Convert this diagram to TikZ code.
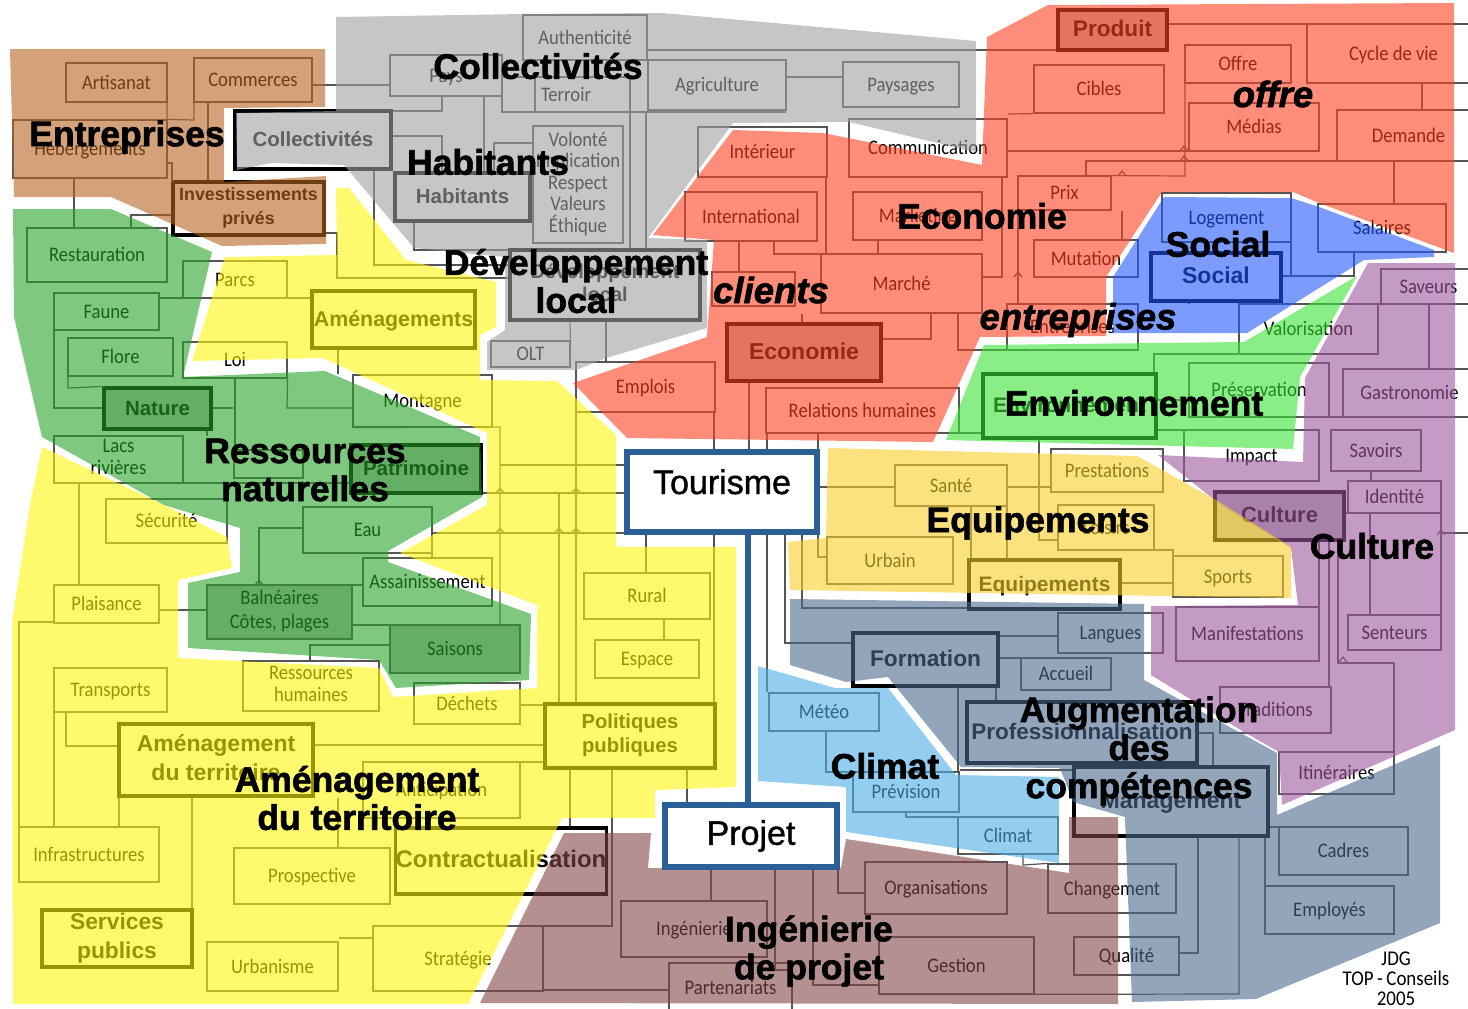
\documentclass[tikz,border=0pt]{standalone}
\usepackage{fontspec}
\setmainfont{Carlito}
\newfontfamily\scan[FakeStretch=0.9]{Carlito}
\newfontfamily\titre{Liberation Sans}[UprightFont=* Bold]
\newfontfamily\gros{Liberation Sans}[UprightFont=* Bold,UprightFeatures={FakeBold=1.7},ItalicFont=* Bold Italic,ItalicFeatures={FakeBold=1.7}]
\newfontfamily\cadre{Liberation Sans}[FakeBold=1.2]
\pgfdeclarelayer{regions}\pgfdeclarelayer{top}
\pgfsetlayers{main,regions,top}
\definecolor{cOrange}{RGB}{183,100,33}
\definecolor{cGris}{RGB}{160,160,160}
\definecolor{cRouge}{RGB}{255,65,33}
\definecolor{cBleu}{RGB}{35,88,255}
\definecolor{cVert}{RGB}{57,227,52}
\definecolor{cViolet}{RGB}{157,88,157}
\definecolor{cJaune}{RGB}{255,245,13}
\definecolor{cOr}{RGB}{250,207,40}
\definecolor{cSapin}{RGB}{42,163,42}
\definecolor{cArdoise}{RGB}{75,105,142}
\definecolor{cCiel}{RGB}{75,172,230}
\definecolor{cRose}{RGB}{132,70,70}
\definecolor{cCadre}{RGB}{42,96,150}
\definecolor{cTrait}{RGB}{85,85,85}
\tikzset{
  x=1pt,y=-1pt,
  boite/.style={draw=cTrait,line width=1.2pt,inner sep=0pt,align=center,text=black,
    font=\scan\fontsize{20.7}{24}\selectfont,execute at begin node={\rule[-5pt]{0pt}{23.4pt}}},
  plein/.style={execute at begin node={}},
  bf/.style n args={2}{draw=black,line width=3.2pt,plein,font=\titre\fontsize{#1}{#2}\selectfont},
  dk/.style={fill=black!25},
  w/.style={draw=cTrait,line width=1.2pt},
  zone/.style={fill opacity=0.6,draw=none},
  etiq/.style={align=center,text=black,inner sep=0pt,font=\gros\fontsize{35.5}{38}\selectfont},
  etiqi/.style={etiq,font=\gros\itshape\fontsize{36.5}{38}\selectfont},
  pivot/.style={draw=cCadre,fill=white,line width=6pt,inner sep=0pt,text=black,
    font=\cadre\fontsize{34}{38}\selectfont},
  sign/.style={inner sep=0pt,align=center,text=black,font=\scan\fontsize{21}{20}\selectfont},
}
\newcommand{\bx}[7][]{%
  \pgfmathsetmacro\bxcx{(#3+#5)/2}\pgfmathsetmacro\bxcy{(#4+#6)/2}%
  \pgfmathsetmacro\bxw{#5-#3}\pgfmathsetmacro\bxh{#6-#4}%
  \node[boite,#1,minimum width=\bxw pt,minimum height=\bxh pt] (#2) at (\bxcx,\bxcy) {#7};}
\newcommand{\hw}[3]{\draw[w] (#1.east |- 0,#3) -- (#2.west |- 0,#3);}
\newcommand{\vw}[3]{\draw[w] (#1.south -| #3,0) -- (#2.north -| #3,0);}
\newcommand{\bosse}[2]{\draw[w] (#1-4,#2) -- (#1,#2-5) -- (#1+4,#2);}
\begin{document}
\begin{tikzpicture}
\useasboundingbox (0,0) rectangle (1468,1009);
\begin{pgfonlayer}{regions}
\fill[zone,cOrange] (10,49)--(325,49)--(325,107)--(224,108)--(224,182)--(326,176)--(326,244)--(222,246)--(111,197)--(14,197)--cycle;
\fill[zone,cGris] (336,17)--(524,14)--(662,13)--(976,41)--(976,152)--(849,122)--(733,123)--(648,238)--(707,240)--(707,328)--(606,358)--(576,370)--(487,370)--(487,342)--(505,330)--(505,257)--(414,248)--(344,165)--(271,163)--(237,170)--(236,113)--(336,111)--cycle;
\fill[zone,cRouge] (987,37)--(1048,5)--(1454,3)--(1454,253)--(1319,203)--(1293,192)--(1162,192)--(1106,277)--(1106,336)--(980,337)--(933,442)--(627,438)--(573,383)--(707,337)--(714,240)--(653,235)--(733,130)--(823,133)--(982,165)--cycle;
\fill[zone,cBleu] (1164,197)--(1291,198)--(1319,207)--(1434,250)--(1434,257)--(1364,260)--(1247,333)--(1113,333)--(1113,277)--cycle;
\fill[zone,cVert] (1357,276)--(1300,377)--(1293,449)--(946,440)--(984,345)--(1244,342)--cycle;
\fill[zone,cViolet] (1368,263)--(1455,263)--(1455,730)--(1282,805)--(1279,752)--(1244,732)--(1151,675)--(1151,606)--(1298,605)--(1291,548)--(1221,505)--(1158,455)--(1303,462)--(1305,378)--cycle;
\fill[zone,cOr] (828,448)--(1137,456)--(1221,503)--(1291,547)--(1291,598)--(790,590)--(788,542)--(826,538)--cycle;
\fill[zone,cArdoise] (790,599)--(1144,604)--(1144,680)--(1277,753)--(1277,815)--(1440,745)--(1440,923)--(1256,999)--(1132,1002)--(1125,817)--(1073,802)--(1060,768)--(961,767)--(888,677)--(846,682)--(790,665)--cycle;
\fill[zone,cCiel] (758,666)--(835,688)--(888,688)--(956,775)--(1059,777)--(1059,863)--(846,832)--(846,787)--(758,781)--cycle;
\fill[zone,cRose] (564,833)--(651,833)--(648,868)--(841,868)--(846,839)--(1069,873)--(1069,817)--(1118,817)--(1118,1004)--(480,1003)--cycle;
\fill[zone,cJaune] (336,188)--(349,188)--(406,260)--(496,282)--(496,327)--(480,335)--(480,380)--(557,381)--(616,435)--(616,547)--(736,547)--(736,787)--(655,790)--(655,818)--(562,818)--(468,1004)--(13,1004)--(12,622)--(30,505)--(42,447)--(164,505)--(227,537)--(232,568)--(178,580)--(178,658)--(379,668)--(393,697)--(537,688)--(537,605)--(400,553)--(487,505)--(487,433)--(323,358)--(192,361)--(225,257)--(337,255)--cycle;
\fill[zone,cSapin] (13,209)--(111,209)--(212,252)--(183,377)--(325,371)--(480,437)--(482,497)--(388,551)--(388,562)--(531,614)--(529,680)--(396,688)--(379,660)--(188,648)--(188,583)--(240,572)--(240,528)--(164,505)--(42,437)--(14,317)--cycle;
\end{pgfonlayer}
\begin{pgfonlayer}{top}
\node[pivot,minimum width=190pt,minimum height=80pt,text height=24pt,text depth=20pt] (tourisme) at (722,492) {Tourisme};
\node[pivot,minimum width=172pt,minimum height=62pt] (projet) at (751,836) {Projet};
\draw[draw=cCadre,line width=6pt] (tourisme.south -| 748,0) -- (projet.north -| 748,0);
\node[etiq] (lEnt) at (127,137) {Entreprises};
\node[etiq] (lCol) at (538,66) {Collectivités};
\node[etiq] (lHab) at (488,162) {Habitants};
\node[etiq] (lDev) at (576,281) {Développement\\local};
\node[etiq] (lEco) at (982,216) {Economie};
\node[etiq] (lSoc) at (1218,244) {Social};
\node[etiqi] (lOff) at (1273,94) {offre};
\node[etiqi] (lCli) at (771,290) {clients};
\node[etiqi] (lEnt2) at (1078,320) {entreprises};
\node[etiq] (lEnv) at (1134,403) {Environnement};
\node[etiq] (lEqu) at (1038,523) {Equipements};
\node[etiq] (lCul) at (1372,546) {Culture};
\node[etiq] (lRes) at (305,470) {Ressources\\naturelles};
\node[etiq] (lCli2) at (885,766) {Climat};
\node[etiq] (lAug) at (1139,751) {Augmentation\\des\\compétences};
\node[etiq] (lAme) at (357,798) {Aménagement\\du territoire};
\node[etiq] (lIng) at (809,951) {Ingénierie\\de projet};
\node[sign] (jdg) at (1396,979) {JDG\\TOP{\,}-{\,}Conseils\\2005};
\end{pgfonlayer}
% boxes
\bx{artisanat}{66}{63}{167}{102}{Artisanat}
\bx{commerces}{194}{58}{312}{102}{Commerces}
\bx{heberg}{13}{120}{167}{178}{Hébergements}
\bx[bf={17.8}{24}]{invest}{173}{182}{324}{235}{Investissements\\privés}
\bx[bf={20.5}{24}]{collect}{235}{111}{391}{169}{Collectivités}
\bx{pays}{390}{55}{502}{96}{Pays}
\bx{authent}{523}{15}{647}{60}{Authenticité}
\bx{terroir}{502}{77}{630}{112}{Terroir}
\bx{agri}{648}{60}{786}{110}{Agriculture}
\bx{paysages}{843}{62}{959}{107}{Paysages}
\bx{petite}{494}{143}{533}{173}{}
\bx[plein,line width=2.4pt,font=\scan\fontsize{20.7}{21.5}\selectfont]{volonte}{533}{126}{623}{243}{Volonté\\Implication\\Respect\\Valeurs\\Éthique}
\bx[bf={20.5}{24},fill=white]{habitants}{395}{173}{530}{221}{Habitants}
\bx[bf={20}{23}]{devloc}{510}{250}{700}{320}{Développement\\local}
\bx{olt}{491}{341}{570}{367}{OLT}
\bx{interieur}{698}{127}{827}{177}{Intérieur}
\bx{internat}{685}{192}{817}{241}{International}
\bx{commu}{849}{119}{1007}{177}{Communication}
\bx{cibles}{1034}{65}{1164}{113}{Cibles}
\bx{offrebox}{1185}{45}{1291}{83}{Offre}
\bx{medias}{1189}{103}{1319}{151}{Médias}
\bx{cycle}{1307}{24}{1480}{83}{Cycle de vie}
\bx{demande}{1337}{110}{1480}{161}{Demande}
\bx[bf={22.6}{24},dk]{produit}{1058}{10}{1167}{50}{Produit}
\bx{prix}{1018}{176}{1111}{210}{Prix}
\bx{marketing}{853}{192}{982}{240}{Marketing}
\bx{marche}{821}{254}{982}{313}{Marché}
\bx{mutation}{1034}{240}{1138}{277}{Mutation}
\bx{entrep}{1007}{304}{1138}{350}{Entreprises}
\bx{clientsb}{712}{272}{795}{306}{}
\bx[bf={23}{24},dk]{economie}{727}{324}{881}{381}{Economie}
\bx{emplois}{576}{362}{715}{412}{Emplois}
\bx{relhum}{766}{388}{959}{433}{Relations humaines}
\bx[bf={21}{24}]{environ}{983}{374}{1156}{438}{Environnement}
\bx{preserv}{1189}{363}{1329}{417}{Préservation}
\bx{valoris}{1239}{304}{1378}{354}{Valorisation}
\bx{logement}{1162}{193}{1291}{242}{Logement}
\bx[bf={23}{24}]{social}{1151}{253}{1281}{301}{Social}
\bx{salaires}{1318}{204}{1446}{252}{Salaires}
\bx{saveurs}{1381}{269}{1476}{304}{Saveurs}
\bx{gastro}{1343}{369}{1476}{417}{Gastronomie}
\bx{savoirs}{1331}{430}{1421}{471}{Savoirs}
\bx{identite}{1348}{481}{1441}{513}{Identité}
\bx{impact}{1184}{430}{1319}{481}{Impact}
\bx{sante}{895}{465}{1007}{506}{Santé}
\bx{prestat}{1051}{449}{1163}{492}{Prestations}
\bx{loisirs}{1058}{505}{1154}{550}{Loisirs}
\bx[bf={22}{24},dk]{culture}{1215}{492}{1344}{540}{Culture}
\bx{urbain}{827}{537}{953}{584}{Urbain}
\bx[bf={21}{24}]{equip}{969}{560}{1120}{609}{Equipements}
\bx{sports}{1173}{556}{1283}{597}{Sports}
\bx{manif}{1176}{607}{1319}{661}{Manifestations}
\bx{senteurs}{1348}{615}{1441}{650}{Senteurs}
\bx{langues}{1058}{613}{1163}{653}{Langues}
\bx[bf={22.7}{24}]{formation}{853}{633}{998}{686}{Formation}
\bx{accueil}{1021}{658}{1111}{690}{Accueil}
\bx[bf={22.5}{24}]{profess}{967}{702}{1197}{763}{Professionnalisation}
\bx{tradit}{1220}{687}{1331}{733}{Traditions}
\bx{itin}{1279}{752}{1394}{794}{Itinéraires}
\bx[bf={23}{24}]{manag}{1074}{767}{1268}{836}{Management}
\bx{cadres}{1279}{827}{1408}{875}{Cadres}
\bx{employes}{1265}{886}{1394}{934}{Employés}
\bx{meteo}{769}{693}{879}{731}{Météo}
\bx{prevision}{853}{772}{959}{812}{Prévision}
\bx{climatb}{958}{817}{1058}{854}{Climat}
\bx{organis}{865}{862}{1007}{914}{Organisations}
\bx{changem}{1048}{864}{1176}{913}{Changement}
\bx{gestion}{879}{937}{1034}{994}{Gestion}
\bx{qualite}{1074}{937}{1179}{975}{Qualité}
\bx{ingenier}{621}{901}{767}{957}{Ingénierie}
\bx{partenar}{669}{963}{792}{1012}{Partenariats}
\bx{parcs}{183}{261}{287}{298}{Parcs}
\bx[bf={21.4}{24}]{amenag}{312}{291}{475}{348}{Aménagements}
\bx{faune}{54}{293}{159}{330}{Faune}
\bx{restaur}{27}{228}{167}{282}{Restauration}
\bx{flore}{68}{338}{173}{376}{Flore}
\bx[bf={20.5}{24},dk]{nature}{104}{388}{211}{429}{Nature}
\bx{loi}{183}{342}{287}{378}{Loi}
\bx{montagne}{353}{375}{492}{427}{Montagne}
\bx[plein,font=\scan\fontsize{20.7}{22}\selectfont]{lacs}{54}{436}{183}{483}{Lacs\\rivières}
\bx[bf={20.5}{24},dk]{patrim}{351}{445}{481}{493}{Patrimoine}
\bx{cache}{234}{450}{303}{478}{}
\bx{securite}{106}{499}{227}{543}{Sécurité}
\bx{eau}{303}{507}{432}{553}{Eau}
\bx{assain}{363}{558}{492}{606}{Assainissement}
\bx[plein,dk]{balne}{207}{585}{352}{639}{Balnéaires\\Côtes, plages}
\bx{plaisance}{54}{585}{159}{623}{Plaisance}
\bx[dk]{saisons}{390}{625}{520}{673}{Saisons}
\bx{rural}{584}{573}{710}{619}{Rural}
\bx{espace}{595}{640}{699}{678}{Espace}
\bx{transports}{54}{668}{167}{712}{Transports}
\bx[plein,font=\scan\fontsize{20.7}{22}\selectfont]{ressh}{243}{661}{379}{711}{Ressources\\humaines}
\bx{dechets}{414}{683}{520}{724}{Déchets}
\bx[bf={20.3}{24}]{politiq}{545}{704}{715}{768}{Politiques\\publiques}
\bx[bf={23}{29}]{amterr}{119}{724}{313}{796}{Aménagement\\du territoire}
\bx{anticip}{363}{762}{520}{818}{Anticipation}
\bx{infra}{19}{827}{159}{882}{Infrastructures}
\bx{prospect}{234}{848}{390}{904}{Prospective}
\bx[bf={24}{26}]{contract}{396}{828}{606}{894}{Contractualisation}
\bx[bf={22.8}{29}]{services}{42}{910}{192}{967}{Services\\publics}
\bx{urbanisme}{207}{942}{338}{991}{Urbanisme}
\bx{strategie}{373}{926}{543}{991}{Stratégie}
% wires
\hw{commerces}{pays}{85}
\draw[w] (artisanat.south -| 167,0) -- (heberg.north -| 167,0) -- (194,120) -- (commerces.south -| 194,0);
\vw{commerces}{invest}{208}
\vw{heberg}{restaur}{74}
\draw[w] (heberg.east |- 0,163) -- (172,163) -- (172,182);
\draw[w] (restaur.north -| 131,0) -- (131,215) -- (invest.west |- 0,215);
\draw[w] (invest.east |- 0,233) -- (337,233) -- (337,278) -- (devloc.west |- 0,278);
\draw[w] (collect.east |- 0,136) -- (442,136) -- (habitants.north -| 442,0);
\draw[w] (pays.south -| 442,0) -- (442,111) -- (collect.east |- 0,111);
\draw[w] (collect.south -| 374,0) -- (374,265) -- (devloc.west |- 0,265);
\draw[w] (habitants.south -| 414,0) -- (414,250) -- (devloc.west |- 0,250);
\vw{pays}{habitants}{484}
\vw{terroir}{devloc}{630}
\vw{terroir}{devloc}{646}
\draw[w] (authent.east |- 0,50) -- (produit.west |- 0,50);
\draw[w] (terroir.east |- 0,112) -- (786,112);
\hw{agri}{paysages}{77}
\draw[w] (pays.east |- 0,85) -- (terroir.west |- 0,85);
\draw[w] (terroir.north -| 535,0) -- (terroir.south -| 535,0);
\draw[w] (devloc.south -| 570,0) -- (olt.east |- 0,345);
\vw{devloc}{emplois}{606}
\draw[w] (amenag.west |- 0,298) -- (faune.east |- 0,298);
\draw[w] (parcs.south -| 183,0) -- (183,298);
\draw[w] (amenag.south -| 338,0) -- (montagne.north -| 338,0);
\draw[w] (loi.east |- 0,378) -- (287,408) -- (montagne.west |- 0,408);
\draw[w] (loi.south -| 235,0) -- (cache.north -| 235,0);
\hw{nature}{cache}{408}
\draw[w] (faune.south -| 54,0) -- (54,408) -- (nature.west |- 0,408);
\draw[w] (flore.south -| 68,0) -- (68,388) -- (nature.north -| 104,0);
\draw[w] (nature.south -| 207,0) -- (207,436);
\draw[w] (lacs.east |- 0,483) -- (patrim.west |- 0,483);
\vw{lacs}{plaisance}{79}
\draw[w] (eau.west |- 0,528) -- (259,528) -- (balne.north -| 259,0);
\draw[w] (eau.east |- 0,533) -- (tourisme.west |- 0,533);
\draw[w] (500,465) -- (tourisme.west |- 0,465);
\draw[w] (patrim.east |- 0,493) -- (tourisme.west |- 0,493);
\vw{eau}{assain}{432}
\draw[w] (montagne.south -| 353,0) -- (500,427) -- (saisons.north -| 500,0);
\draw[w] (559,493) -- (politiq.north -| 559,0);
\draw[w] (emplois.north -| 576,0) -- (politiq.north -| 576,0);
\vw{tourisme}{rural}{646}
\vw{rural}{espace}{664}
\vw{tourisme}{politiq}{714}
\vw{emplois}{tourisme}{714}
\hw{plaisance}{balne}{610}
\draw[w] (plaisance.west |- 0,622) -- (19,622) -- (infra.north -| 19,0);
\vw{transports}{infra}{54}
\draw[w] (transports.south -| 66,0) -- (66,746) -- (amterr.west |- 0,746);
\vw{amterr}{infra}{119}
\draw[w] (amterr.south -| 192,0) -- (services.north -| 192,0);
\vw{amterr}{prospect}{338}
\hw{amterr}{politiq}{745}
\draw[w] (anticip.east |- 0,762) -- (politiq.west |- 0,762);
\hw{dechets}{politiq}{705}
\vw{politiq}{projet}{687}
\vw{politiq}{contract}{570}
\draw[w] (politiq.south -| 612,0) -- (612,926) -- (strategie.east |- 0,926);
\draw[w] (urbanisme.east |- 0,938) -- (strategie.west |- 0,938);
\draw[w] (strategie.east |- 0,990) -- (partenar.west |- 0,990);
\hw{balne}{saisons}{625}
\draw[w] (balne.east |- 0,585) -- (assain.west |- 0,585);
\draw[w] (saisons.west |- 0,645) -- (310,645) -- (ressh.north -| 310,0);
\vw{projet}{ingenier}{711}
\draw[w] (projet.south -| 775,0) -- (775,970) -- (partenar.east |- 0,970);
\draw[w] (projet.south -| 813,0) -- (813,985) -- (gestion.west |- 0,985);
\draw[w] (projet.south -| 838,0) -- (838,893) -- (organis.west |- 0,893);
\draw[w] (climatb.south -| 1023,0) -- (1023,865) -- (changem.north -| 1048,0);
\draw[w] (meteo.south -| 826,0) -- (826,772) -- (prevision.west |- 0,772);
\draw[w] (prevision.south -| 906,0) -- (906,817) -- (climatb.west |- 0,817);
\draw[w] (tourisme.south -| 767,0) -- (meteo.north -| 767,0);
\draw[w] (tourisme.south -| 785,0) -- (785,643) -- (formation.west |- 0,643);
\draw[w] (tourisme.south -| 802,0) -- (802,608) -- (equip.west |- 0,608);
\draw[w] (tourisme.south -| 818,0) -- (818,557) -- (urbain.west |- 0,557);
\hw{formation}{langues}{636}
\hw{formation}{accueil}{658}
\draw[w] (formation.south -| 958,0) -- (958,772) -- (prevision.east |- 0,772);
\vw{formation}{profess}{996}
\draw[w] (profess.east |- 0,733) -- (1213,733) -- (manag.north -| 1213,0);
\draw[w] (prevision.east |- 0,770) -- (manag.west |- 0,770);
\draw[w] (manag.south -| 1198,0) -- (1198,953) -- (qualite.east |- 0,953);
\draw[w] (manag.south -| 1239,0) -- (1239,994) -- (gestion.south -| 879,0);
\hw{manag}{cadres}{827}
\vw{manag}{employes}{1265}
\hw{tourisme}{sante}{487}
\hw{sante}{prestat}{487}
\draw[w] (equip.north -| 1007,0) -- (sante.south -| 1007,0);
\vw{sante}{equip}{971}
\hw{equip}{sports}{583}
\draw[w] (loisirs.east |- 0,550) -- (1173,550) -- (sports.north -| 1173,0);
\draw[w] (environ.south -| 1039,0) -- (1039,540) -- (loisirs.west |- 0,540);
\draw[w] (environ.north -| 1154,0) -- (1154,354) -- (valoris.west |- 0,354);
\hw{environ}{impact}{430}
\hw{environ}{preserv}{400}
\vw{relhum}{tourisme}{767}
\vw{economie}{tourisme}{749}
\draw[w] (tourisme.north -| 818,0) -- (818,433) -- (relhum.south -| 818,0);
\draw[w] (relhum.east |- 0,433) -- (environ.west |- 0,433);
\draw[w] (economie.north -| 802,0) -- (marche.south -| 802,0);
\draw[w] (economie.east |- 0,339) -- (931,339) -- (marche.south -| 931,0);
\draw[w] (marche.south -| 958,0) -- (958,350) -- (entrep.west |- 0,350);
\vw{prix}{entrep}{1018}
\draw[w] (commu.south -| 1002,0) -- (1002,277) -- (marche.east |- 0,277);
\vw{interieur}{marche}{826}
\vw{marketing}{marche}{878}
\vw{internat}{clientsb}{739}
\draw[w] (internat.south -| 774,0) -- (774,254) -- (marche.west |- 0,254);
\draw[w] (commu.east |- 0,114) -- (cibles.south -| 1034,0);
\draw[w] (commu.east |- 0,151) -- (medias.west |- 0,151);
\draw[w] (offrebox.north -| 1185,0) -- (1185,176) -- (prix.north -| 1086,0);
\draw[w] (produit.east |- 0,24) -- (cycle.west |- 0,24);
\draw[w] (demande.west |- 0,161) -- (1086,161) -- (prix.north -| 1086,0);
\vw{prix}{mutation}{1122}
\vw{cycle}{demande}{1422}
\vw{demande}{salaires}{1394}
\draw[w] (salaires.south -| 1354,0) -- (1354,276) -- (1291,276) -- (logement.south -| 1291,0);
\draw[w] (social.east |- 0,276) -- (1291,276);
\vw{social}{entrep}{1189}
\vw{social}{valoris}{1239}
\hw{valoris}{saveurs}{304}
\vw{saveurs}{gastro}{1429}
\hw{preserv}{gastro}{417}
\vw{savoirs}{identite}{1371}
\draw[w] (culture.east |- 0,513) -- (identite.west |- 0,513);
\draw[w] (identite.east |- 0,533) -- (1468,533);
\vw{culture}{manif}{1319}
\vw{culture}{tradit}{1329}
\draw[w] (culture.south -| 1338,0) -- (1338,663) -- (1394,663) -- (itin.north -| 1394,0);
\vw{identite}{senteurs}{1441}
\draw[w] (identite.south -| 1370,0) -- (senteurs.north -| 1370,0);
\bosse{500}{533}\bosse{559}{533}\bosse{576}{533}
\bosse{500}{493}\bosse{576}{493}
\bosse{1184}{151}\bosse{1184}{161}\bosse{1122}{176}\bosse{1018}{277}
\bosse{259}{585}\bosse{1343}{662}\bosse{1441}{535}
\end{tikzpicture}
\end{document}
